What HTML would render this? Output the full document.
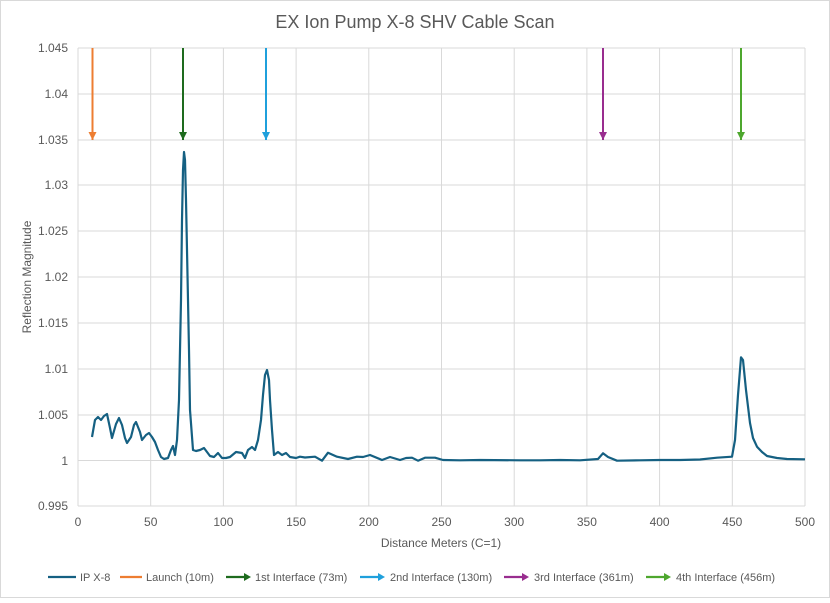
<!DOCTYPE html>
<html><head><meta charset="utf-8"><style>
body{margin:0;background:#fff}
svg text{font-family:"Liberation Sans",sans-serif;fill:#595959}
</style></head><body>
<svg width="830" height="598" viewBox="0 0 830 598" xmlns="http://www.w3.org/2000/svg">
<rect x="0.5" y="0.5" width="829" height="597" fill="#fff" stroke="#d9d9d9"/>
<text x="415" y="28" font-size="18" text-anchor="middle">EX Ion Pump X-8 SHV Cable Scan</text>
<g stroke="#d9d9d9" stroke-width="1">
<line x1="78" y1="48" x2="805" y2="48"/><line x1="78" y1="94" x2="805" y2="94"/><line x1="78" y1="140" x2="805" y2="140"/><line x1="78" y1="185" x2="805" y2="185"/><line x1="78" y1="231" x2="805" y2="231"/><line x1="78" y1="277" x2="805" y2="277"/><line x1="78" y1="323" x2="805" y2="323"/><line x1="78" y1="369" x2="805" y2="369"/><line x1="78" y1="415" x2="805" y2="415"/><line x1="78" y1="460.5" x2="805" y2="460.5"/><line x1="78" y1="506" x2="805" y2="506"/>
<line x1="78" y1="48" x2="78" y2="506"/><line x1="150.7" y1="48" x2="150.7" y2="506"/><line x1="223.4" y1="48" x2="223.4" y2="506"/><line x1="296.1" y1="48" x2="296.1" y2="506"/><line x1="368.8" y1="48" x2="368.8" y2="506"/><line x1="441.5" y1="48" x2="441.5" y2="506"/><line x1="514.2" y1="48" x2="514.2" y2="506"/><line x1="586.9" y1="48" x2="586.9" y2="506"/><line x1="659.6" y1="48" x2="659.6" y2="506"/><line x1="732.3" y1="48" x2="732.3" y2="506"/><line x1="805" y1="48" x2="805" y2="506"/>
</g>
<g font-size="12" text-anchor="end">
<text x="68" y="52">1.045</text><text x="68" y="98">1.04</text><text x="68" y="144">1.035</text><text x="68" y="189">1.03</text><text x="68" y="235">1.025</text><text x="68" y="281">1.02</text><text x="68" y="327">1.015</text><text x="68" y="373">1.01</text><text x="68" y="419">1.005</text><text x="68" y="465">1</text><text x="68" y="510">0.995</text>
</g>
<g font-size="12" text-anchor="middle">
<text x="78" y="526">0</text><text x="150.7" y="526">50</text><text x="223.4" y="526">100</text><text x="296.1" y="526">150</text><text x="368.8" y="526">200</text><text x="441.5" y="526">250</text><text x="514.2" y="526">300</text><text x="586.9" y="526">350</text><text x="659.6" y="526">400</text><text x="732.3" y="526">450</text><text x="805" y="526">500</text>
</g>
<text x="441" y="547" font-size="12" text-anchor="middle">Distance Meters (C=1)</text>
<text transform="translate(31,277) rotate(-90)" font-size="12" text-anchor="middle">Reflection Magnitude</text>
<defs>
<marker id="ah" markerWidth="8" markerHeight="8" refX="7" refY="4" orient="auto" markerUnits="userSpaceOnUse"><path d="M0,0 L8,4 L0,8z" fill="context-stroke"/></marker>
</defs>
<g stroke-width="2">
<line x1="92.5" y1="48" x2="92.5" y2="140" stroke="#ed7d31"/><path d="M88.5,132 L96.5,132 L92.5,140z" fill="#ed7d31"/>
<line x1="183" y1="48" x2="183" y2="140" stroke="#1e6b1e"/><path d="M179,132 L187,132 L183,140z" fill="#1e6b1e"/>
<line x1="266" y1="48" x2="266" y2="140" stroke="#1fa0dc"/><path d="M262,132 L270,132 L266,140z" fill="#1fa0dc"/>
<line x1="603" y1="48" x2="603" y2="140" stroke="#992d8f"/><path d="M599,132 L607,132 L603,140z" fill="#992d8f"/>
<line x1="741" y1="48" x2="741" y2="140" stroke="#4ea72e"/><path d="M737,132 L745,132 L741,140z" fill="#4ea72e"/>
</g>
<polyline fill="none" stroke="#156082" stroke-width="2.2" stroke-linejoin="round" points="92,437 95,420 98,417 101,420 104,416 107,414 110,428 112,438 116,424 119,418 122,425 125,438 127,443 131,437 134,425 136,422 140,432 142,440 146,435 149,433 152,437 155,442 158,450 161,457 164,459 168,458 171,450 173,446 175,455 177,440 179,400 181,300 182,220 183,170 184,152 185,160 186,200 187,250 189,350 190,410 193,450 196,451 200,450 204,448 207,452 210,456 214,457 218,453 222,458 226,458 230,457 236,452 242,453 245,458 248,450 252,447 255,450 258,440 261,420 263,395 265,375 267,370 269,380 270,400 272,430 274,455 278,452 282,455 286,453 290,457 296,458 300,456.7 305,457.5 315,456.7 322,460.7 328,452.7 337,456.7 348,459 357,456.7 363,457 370,455 382,460 390,457 400,460 406,458 412,457.7 418,460.7 425,457.7 435,457.7 443,460 460,460.3 480,460 520,460.3 540,460.3 560,460 580,460.3 598,459 603,453.3 608,457 617,460.7 640,460.3 660,460 680,460 700,459.5 717,457.7 732,456.7 735,440 738,395 741,357.3 743,360 746,390 750,423 753,438 757,446.7 762,452 767,456 777,458 787,459 805,459.3"/>
<g font-size="11">
<line x1="48" y1="577" x2="76" y2="577" stroke="#156082" stroke-width="2.2"/><text x="80" y="581">IP X-8</text>
<line x1="120" y1="577" x2="142" y2="577" stroke="#ed7d31" stroke-width="2.2"/><text x="146" y="581">Launch (10m)</text>
<line x1="226" y1="577" x2="248" y2="577" stroke="#1e6b1e" stroke-width="2.2"/><path d="M244,573 L251,577 L244,581z" fill="#1e6b1e"/><text x="255" y="581">1st Interface (73m)</text>
<line x1="360" y1="577" x2="382" y2="577" stroke="#1fa0dc" stroke-width="2.2"/><path d="M378,573 L385,577 L378,581z" fill="#1fa0dc"/><text x="390" y="581">2nd Interface (130m)</text>
<line x1="504" y1="577" x2="526" y2="577" stroke="#992d8f" stroke-width="2.2"/><path d="M522,573 L529,577 L522,581z" fill="#992d8f"/><text x="534" y="581">3rd Interface (361m)</text>
<line x1="646" y1="577" x2="668" y2="577" stroke="#4ea72e" stroke-width="2.2"/><path d="M664,573 L671,577 L664,581z" fill="#4ea72e"/><text x="676" y="581">4th Interface (456m)</text>
</g>
</svg>
</body></html>
